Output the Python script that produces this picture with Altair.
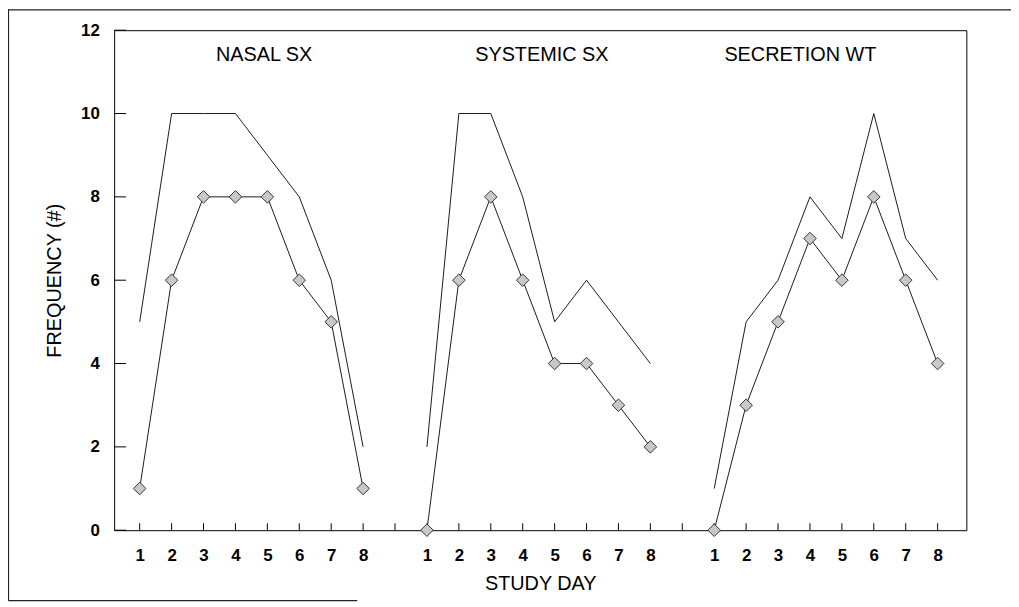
import altair as alt
import pandas as pd

# ---- data ----
days = [1, 2, 3, 4, 5, 6, 7, 8]
panels = ["NASAL SX", "SYSTEMIC SX", "SECRETION WT"]
nasal_upper = [5, 10, 10, 10, 9, 8, 6, 2]
nasal_lower = [1, 6, 8, 8, 8, 6, 5, 1]
systemic_upper = [2, 10, 10, 8, 5, 6, 5, 4]
systemic_lower = [0, 6, 8, 6, 4, 4, 3, 2]
secretion_upper = [1, 5, 6, 8, 7, 10, 7, 6]
secretion_lower = [0, 3, 5, 7, 6, 8, 6, 4]
y_ticks = [0, 2, 4, 6, 8, 10, 12]
panel_offsets = [0, 9, 18]           # slot offset of each group on the shared axis
x_tick_positions = list(range(1, 27))
title_anchor = [4.9, 13.6, 21.7]     # x anchor (axis units) of the in-plot titles

uppers = [nasal_upper, systemic_upper, secretion_upper]
lowers = [nasal_lower, systemic_lower, secretion_lower]

rows = []
for name, off, up, lo in zip(panels, panel_offsets, uppers, lowers):
    for d, u, l in zip(days, up, lo):
        rows.append({"panel": name, "pos": d + off, "upper": u, "lower": l})
df = pd.DataFrame(rows)
titles_df = pd.DataFrame({"panel": panels, "ax": title_anchor})
yt_df = pd.DataFrame({"v": y_ticks})
xt_df = pd.DataFrame({"p": x_tick_positions})

W, H = 859, 504
FONT = "Liberation Sans"

xscale = alt.Scale(domain=[0.2, 26.9], nice=False, zero=False)
yscale = alt.Scale(domain=[0, 12], nice=False)

label_expr = ("datum.value == 9 || datum.value == 18 ? '' : "
              "(datum.value > 18 ? datum.value - 18 : "
              "(datum.value > 9 ? datum.value - 9 : datum.value))")

xaxis = alt.Axis(values=x_tick_positions, labelExpr=label_expr, title="STUDY DAY",
                 grid=False, domain=False, ticks=False, tickSize=0,
                 labelOverlap=False, labelFlush=False, labelBound=False,
                 labelPadding=18, labelFontSize=17, labelFont=FONT, labelColor="#000",
                 labelFontWeight="bold",
                 titleFontSize=20, titleFont=FONT, titleFontWeight="normal",
                 titleColor="#000", titlePadding=10)
yaxis = alt.Axis(values=y_ticks, title="FREQUENCY (#)", grid=False, domain=False,
                 ticks=False, tickSize=0, labelPadding=15, labelFontSize=17,
                 labelOverlap=False, labelFlush=False,
                 labelFont=FONT, labelColor="#000", labelFontWeight="bold",
                 titleFontSize=20, titleFont=FONT, titleFontWeight="normal",
                 titleColor="#000", titlePadding=16)

base = alt.Chart(df)

upper_line = base.mark_line(color="#1a1a1a", strokeWidth=1).encode(
    x=alt.X("pos:Q", scale=xscale, axis=xaxis),
    y=alt.Y("upper:Q", scale=yscale, axis=yaxis),
    detail="panel:N",
)
lower_line = base.mark_line(color="#1a1a1a", strokeWidth=1).encode(
    x=alt.X("pos:Q", scale=xscale, axis=xaxis),
    y=alt.Y("lower:Q", scale=yscale, axis=yaxis),
    detail="panel:N",
)
lower_pts = base.mark_point(shape="diamond", size=160, filled=True,
                            fill="#c8c8c8", stroke="#333333", strokeWidth=1,
                            opacity=1).encode(
    x=alt.X("pos:Q", scale=xscale, axis=xaxis),
    y=alt.Y("lower:Q", scale=yscale, axis=yaxis),
)

ytick_marks = alt.Chart(yt_df).mark_rule(color="#000", strokeWidth=1).encode(
    y=alt.Y("v:Q", scale=yscale, axis=yaxis),
    x=alt.value(0), x2=alt.value(12),
)
xtick_marks = alt.Chart(xt_df).mark_rule(color="#000", strokeWidth=1).encode(
    x=alt.X("p:Q", scale=xscale, axis=xaxis),
    y=alt.value(H), y2=alt.value(H - 7),
)

panel_titles = alt.Chart(titles_df).mark_text(
    font=FONT, fontSize=20, color="#000", baseline="middle", align="center"
).encode(
    x=alt.X("ax:Q", scale=xscale, axis=xaxis),
    y=alt.value(25),
    text="panel:N",
)

# scan frame around the figure
frame_df = pd.DataFrame({"k": [0]})
frame_left = alt.Chart(frame_df).mark_rule(color="#222", strokeWidth=1.2).encode(
    x=alt.value(-106.5), y=alt.value(-21), y2=alt.value(575))
frame_top = alt.Chart(frame_df).mark_rule(color="#222", strokeWidth=1.2).encode(
    x=alt.value(-106.5), x2=alt.value(904), y=alt.value(-20.5))
frame_bottom = alt.Chart(frame_df).mark_rule(color="#222", strokeWidth=1.2).encode(
    x=alt.value(-106.5), x2=alt.value(245), y=alt.value(575))

chart = alt.layer(
    frame_left, frame_top, frame_bottom,
    ytick_marks, xtick_marks,
    upper_line, lower_line, lower_pts, panel_titles,
).properties(
    width=W, height=H,
    autosize=alt.AutoSizeParams(type="none"),
    padding={"left": 107, "top": 20, "right": 45, "bottom": 70},
    background="white",
).configure_view(
    stroke="#000", strokeWidth=1,
).configure_axis(
    labelOverlap=False,
)

chart.save("out.html", embed_options={"renderer": "svg", "actions": False})
